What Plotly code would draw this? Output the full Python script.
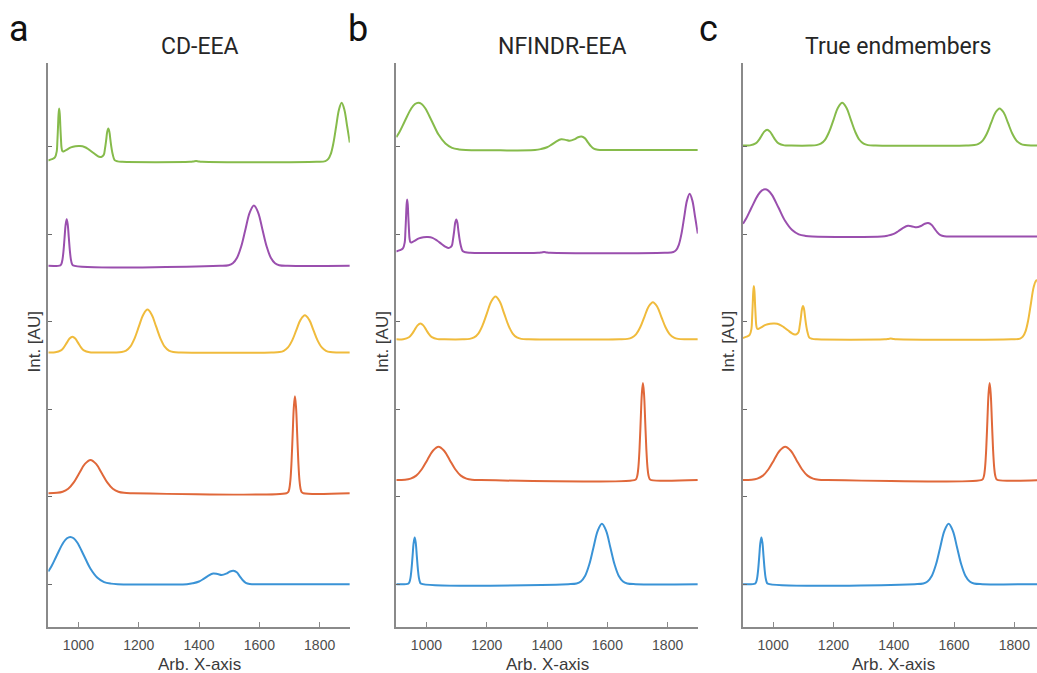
import numpy as np
import plotly.graph_objects as go

W, H = 1037, 673

# ---------------- data: five endmember spectra (x, intensity) ----------------
s1_x = [900, 911, 928, 950, 962, 973, 984, 996, 1018, 1040, 1063, 1085, 1108, 1130,
        1360, 1380, 1400, 1415, 1430, 1447, 1462, 1475, 1490, 1503, 1514, 1525, 1535,
        1545, 1555, 1568, 1580, 1900]
s1_y = [0.146, 0.208, 0.328, 0.476, 0.525, 0.54, 0.525, 0.476, 0.328, 0.176, 0.073, 0.024, 0.006, 0,
        0, 0.01, 0.03, 0.06, 0.095, 0.122, 0.115, 0.105, 0.12, 0.145, 0.153, 0.135, 0.09,
        0.045, 0.015, 0.002, 0, 0]

s2_x = [900, 940, 943.5, 947, 950.5, 954, 957.5, 961, 964.5, 968, 971.5, 975, 978.5, 982,
        1470, 1498, 1512, 1526, 1540, 1554, 1568, 1582, 1596, 1610, 1624, 1638, 1652, 1666, 1694, 1900]
s2_y = [0, 0.006, 0.023, 0.072, 0.174, 0.324, 0.471, 0.534, 0.471, 0.324, 0.174, 0.072, 0.023, 0.006,
        0, 0.008, 0.03, 0.093, 0.224, 0.419, 0.609, 0.69, 0.609, 0.419, 0.224, 0.093, 0.03, 0.008, 0, 0]

s3_x = [900, 923, 942, 951.5, 961, 970.5, 980, 989.5, 999, 1008.5, 1018, 1037, 1060, 1120,
        1143.5, 1158, 1172, 1186, 1200.5, 1215, 1229, 1243, 1257.5, 1272, 1286, 1300, 1314.5, 1340,
        1640, 1667, 1681, 1695, 1709, 1723, 1737, 1751, 1765, 1779, 1793, 1807, 1821, 1835, 1860, 1900]
s3_y = [0, 0.002, 0.024, 0.058, 0.109, 0.159, 0.18, 0.159, 0.109, 0.058, 0.024, 0.002, 0, 0,
        0.005, 0.021, 0.066, 0.159, 0.297, 0.432, 0.49, 0.432, 0.297, 0.159, 0.066, 0.021, 0.005, 0,
        0, 0.005, 0.019, 0.057, 0.138, 0.258, 0.375, 0.425, 0.375, 0.258, 0.138, 0.057, 0.019, 0.005, 0, 0]

s4_x = [900, 929, 947.5, 966, 984.5, 1003, 1021.5, 1040, 1058.5, 1077, 1095.5, 1114, 1132.5, 1151, 1180,
        1690, 1695.5, 1699.25, 1703, 1706.75, 1710.5, 1714.25, 1718, 1721.75, 1725.5, 1729.25, 1733,
        1736.75, 1740.5, 1746, 1900]
s4_y = [0, 0.004, 0.017, 0.051, 0.124, 0.231, 0.335, 0.38, 0.335, 0.231, 0.124, 0.051, 0.017, 0.004, 0,
        0, 0.012, 0.049, 0.15, 0.36, 0.674, 0.979, 1.11, 0.979, 0.674, 0.36, 0.15,
        0.049, 0.012, 0, 0]

s5_x = [900, 912, 922, 928, 930, 932, 934, 936, 938, 940, 942, 944, 947, 952, 962, 975, 990, 1005,
        1020, 1035, 1050, 1062, 1072, 1078, 1084, 1088, 1092, 1095.5, 1099, 1102.5, 1106, 1110, 1114,
        1120, 1130, 1145, 1370, 1382, 1390, 1398, 1410, 1790, 1819, 1828, 1837, 1846, 1855, 1864,
        1873, 1882, 1891, 1900]
s5_y = [0.015, 0.03, 0.05, 0.12, 0.23, 0.38, 0.54, 0.61, 0.55, 0.40, 0.26, 0.16, 0.12, 0.12, 0.14, 0.165, 0.178, 0.18,
        0.17, 0.14, 0.10, 0.07, 0.055, 0.06, 0.08, 0.15, 0.25, 0.345, 0.38, 0.345, 0.25, 0.15, 0.08,
        0.02, 0.005, 0, 0, 0.004, 0.008, 0.004, 0, 0, 0.008, 0.03, 0.091, 0.22, 0.41, 0.596,
        0.676, 0.596, 0.41, 0.22]

spectra = {"S1": (s1_x, s1_y), "S2": (s2_x, s2_y), "S3": (s3_x, s3_y),
           "S4": (s4_x, s4_y), "S5": (s5_x, s5_y)}

# stacking order (bottom -> top) in each panel
panel_titles = ["CD-EEA", "NFINDR-EEA", "True endmembers"]
panel_letters = ["a", "b", "c"]
panel_order = [["S1", "S4", "S3", "S2", "S5"],
               ["S2", "S4", "S3", "S5", "S1"],
               ["S2", "S4", "S5", "S1", "S3"]]
stack_gap = 0.5
x_ticks = [1000, 1200, 1400, 1600, 1800]
y_ticks = [0, 1, 2, 3, 4, 5]

colors = ["#3a93d6", "#e0683a", "#f0bb3c", "#9a4fae", "#86bb4b"]

# ---------------- layout geometry (pixels) ----------------
axis_left_px = [48.3, 396.3, 743.0]
px_per_unit = 0.3015
x_min = 900
y_top_px, y_bot_px = 63, 627
y_range = [-0.49, 5.96]

fig = go.Figure()
layout = dict(width=W, height=H, margin=dict(l=0, r=0, t=0, b=0),
              paper_bgcolor="white", plot_bgcolor="white", showlegend=False,
              annotations=[])

for p in range(3):
    suffix = "" if p == 0 else str(p + 1)
    left = axis_left_px[p]
    right = min(left + 1000 * px_per_unit, W)
    x_max = x_min + (right - left) / px_per_unit
    offset = 0.0
    for k, name in enumerate(panel_order[p]):
        xs, ys = spectra[name]
        ys = np.array(ys, dtype=float)
        fig.add_trace(go.Scatter(x=xs, y=ys + offset, mode="lines",
                                 line=dict(color=colors[k], width=2, shape="spline", smoothing=1.0),
                                 xaxis="x" + suffix, yaxis="y" + suffix, hoverinfo="skip"))
        offset += ys.max() + stack_gap

    layout["xaxis" + suffix] = dict(
        domain=[left / W, right / W], range=[x_min, x_max], anchor="y" + suffix,
        tickvals=x_ticks, ticks="inside", ticklen=5, tickwidth=1, tickcolor="#8a8a8a",
        showline=True, linecolor="#8a8a8a", linewidth=2, showgrid=False, zeroline=False,
        tickfont=dict(family="Liberation Sans", size=14, color="#4d4d4d"),
        ticklabelstandoff=4)
    layout["yaxis" + suffix] = dict(
        domain=[1 - y_bot_px / H, 1 - y_top_px / H], range=y_range, anchor="x" + suffix,
        tickvals=y_ticks, showticklabels=False, ticks="inside", ticklen=4, tickwidth=1,
        tickcolor="#6a6a6a", showline=True, linecolor="#8a8a8a", linewidth=2,
        showgrid=False, zeroline=False)

    center_px = left + 500 * px_per_unit
    layout["annotations"].append(dict(
        text="Arb. X-axis", x=center_px / W, y=1 - 664 / H, xref="paper", yref="paper",
        showarrow=False, xanchor="center", yanchor="middle",
        font=dict(family="Liberation Sans", size=17, color="#3a3a3a")))
    layout["annotations"].append(dict(
        text="Int. [AU]", x=(left - 14.8) / W, y=1 - 342 / H, xref="paper", yref="paper",
        showarrow=False, xanchor="center", yanchor="middle", textangle=-90,
        font=dict(family="Liberation Sans", size=17, color="#3a3a3a")))

title_x_px = [199.5, 562.5, 897.5]
letter_x_px = [7, 346, 697]
for p in range(3):
    layout["annotations"].append(dict(
        text=panel_titles[p], x=title_x_px[p] / W, y=1 - 47 / H, xref="paper", yref="paper",
        showarrow=False, xanchor="center", yanchor="middle",
        font=dict(family="Roboto", size=23, color="#262626")))
    layout["annotations"].append(dict(
        text=panel_letters[p], x=letter_x_px[p] / W, y=1 - 29 / H, xref="paper", yref="paper",
        showarrow=False, xanchor="left", yanchor="middle",
        font=dict(family="Roboto", size=36, color="#111111")))

fig.update_layout(**layout)
fig.write_html("out.html")
